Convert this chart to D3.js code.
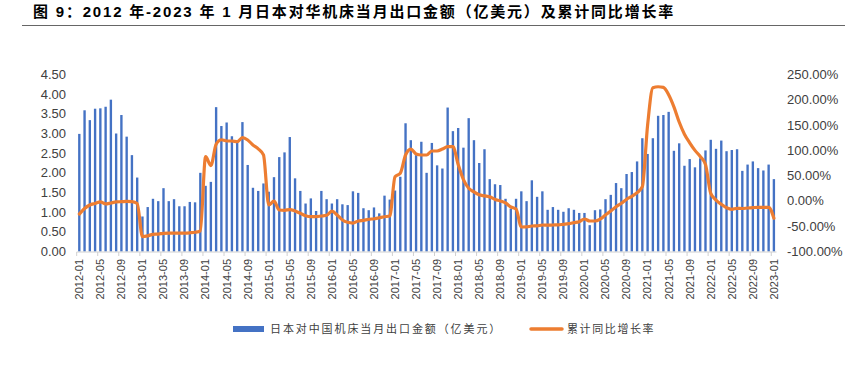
<!DOCTYPE html>
<html>
<head>
<meta charset="utf-8">
<script src="https://cdn.jsdelivr.net/npm/d3@7"></script>
<style>
    body { margin: 0; background: #fff; }
    text { font-family: "Liberation Sans", Arial, "Noto Sans CJK SC", sans-serif; }
</style>
</head>
<body>
<svg width="866" height="370"></svg>
<script>
// months 2012-01 .. 2023-01
const months = [];
for (let y = 2012; y <= 2023; y++) {
    for (let m = 1; m <= 12; m++) {
        if (y === 2023 && m > 1) break;
        months.push(y + "-" + String(m).padStart(2, "0"));
    }
}

// 日本对中国机床当月出口金额（亿美元）
const exportValues = [
    2.99, 3.59, 3.34, 3.63, 3.64, 3.68, 3.86, 3.00, 3.47, 2.92, 2.45, 1.88,   // 2012
    0.89, 1.13, 1.34, 1.28, 1.61, 1.28, 1.33, 1.15, 1.15, 1.26, 1.25, 2.00,   // 2013
    1.67, 1.77, 3.67, 3.19, 3.28, 2.93, 2.82, 3.29, 2.20, 1.62, 1.54, 1.73,   // 2014
    1.52, 1.89, 2.40, 2.52, 2.91, 1.86, 1.54, 1.22, 1.35, 1.03, 1.54, 1.33,   // 2015
    1.22, 1.33, 1.20, 1.18, 1.53, 1.49, 1.10, 1.05, 1.12, 0.97, 1.42, 1.32,   // 2016
    1.55, 1.90, 3.26, 2.83, 2.45, 2.79, 2.00, 2.76, 2.19, 2.11, 3.66, 3.06,   // 2017
    3.14, 2.64, 3.39, 2.83, 2.25, 2.60, 1.84, 1.71, 1.69, 1.34, 1.09, 1.34,   // 2018
    1.53, 1.28, 1.81, 1.39, 1.53, 1.06, 1.13, 1.06, 1.01, 1.10, 1.06, 0.98,   // 2019
    0.98, 0.67, 1.05, 1.07, 1.33, 1.44, 1.74, 1.61, 1.97, 2.02, 2.29, 2.88,   // 2020
    2.48, 2.88, 3.45, 3.47, 3.55, 2.56, 2.75, 2.18, 2.35, 2.14, 2.37, 2.57,   // 2021
    2.84, 2.61, 2.82, 2.55, 2.58, 2.60, 2.05, 2.21, 2.29, 2.12, 2.06, 2.21,   // 2022
    1.84                                                                      // 2023
];

// 累计同比增长率 (%)
const growthRate = [
    -26, -15, -8, -5, -2, -6, -4, -2, -1.5, -1, -1.5, -5,
    -70.5, -69, -66, -65.5, -64, -63.5, -63.5, -63.5, -63.5, -63, -62, -59,
    87.5, 70, 112, 121, 118.5, 118.5, 117, 125, 120.5, 110.6, 103, 91,
    -8, -0.5, -18, -18.5, -17, -20, -24.5, -29.3, -31.2, -31.2, -29.8, -28.4,
    -20, -27.8, -37.7, -42.3, -43.7, -39.7, -38.3, -36.3, -35.2, -33.2, -31.2, -29.8,
    47.9, 54.6, 90.8, 102.6, 92.8, 90.8, 90.8, 98.7, 98.7, 102.6, 107.2, 107.2,
    72, 42, 25, 18, 12, 10, 8, 3, 0, -4, -12, -16,
    -51.6, -51.3, -49.6, -49.3, -47.6, -48, -47.6, -47.3, -46.2, -45, -43, -41,
    -35.7, -39.7, -39.7, -35.7, -27.8, -20, -11.4, -4.7, 3.2, 9.1, 16.3, 28.1,
    150, 223.8, 225.8, 224.6, 210, 186, 156, 132, 115, 100, 88, 72,
    15, 1.8, -6.7, -13.4, -16.6, -14.6, -15, -14, -13.4, -12.6, -12.6, -12.6,
    -34.4
];

const leftTicks  = [0, 0.5, 1, 1.5, 2, 2.5, 3, 3.5, 4, 4.5];
const rightTicks = [-100, -50, 0, 50, 100, 150, 200, 250];
const xLabels    = months.filter((d, i) => i % 4 === 0);

const titleText   = "图 9：2012 年-2023 年 1 月日本对华机床当月出口金额（亿美元）及累计同比增长率";
const barLegend   = "日本对中国机床当月出口金额（亿美元）";
const lineLegend  = "累计同比增长率";

const blue   = "#4472C4";
const orange = "#ED7D31";

const svg = d3.select("svg");

const x = d3.scaleBand()
    .domain(months)
    .range([76.7, 776.5])
    .paddingInner(0.55)
    .paddingOuter(0.27);

const yLeft = d3.scaleLinear().domain([0, 4.5]).range([251.5, 74.5]);
const yRight = d3.scaleLinear().domain([-100, 250]).range([251.5, 74.5]);

// title
svg.append("text")
    .attr("x", 33)
    .attr("y", 17)
    .attr("font-size", 15)
    .attr("font-weight", "bold")
    .attr("letter-spacing", 1.8)
    .attr("fill", "#000")
    .text(titleText);

svg.append("line")
    .attr("x1", 22).attr("x2", 845)
    .attr("y1", 25.5).attr("y2", 25.5)
    .attr("stroke", "#666")
    .attr("stroke-width", 1);

// left axis labels
svg.append("g")
    .selectAll("text")
    .data(leftTicks)
    .enter().append("text")
        .attr("x", 66)
        .attr("y", d => yLeft(d))
        .attr("dy", "0.35em")
        .attr("text-anchor", "end")
        .attr("font-size", 13)
        .attr("fill", "#404040")
        .text(d => d.toFixed(2));

// right axis labels
svg.append("g")
    .selectAll("text")
    .data(rightTicks)
    .enter().append("text")
        .attr("x", 787)
        .attr("y", d => yRight(d))
        .attr("dy", "0.35em")
        .attr("text-anchor", "start")
        .attr("font-size", 13)
        .attr("fill", "#404040")
        .text(d => d.toFixed(2) + "%");

// bars
svg.append("g")
    .selectAll("rect")
    .data(exportValues)
    .enter().append("rect")
        .attr("x", (d, i) => x(months[i]))
        .attr("y", d => yLeft(d))
        .attr("width", x.bandwidth())
        .attr("height", d => yLeft(0) - yLeft(d))
        .attr("fill", blue);

// x axis line + ticks
const bottom = svg.append("g");
bottom.append("line")
    .attr("x1", 76.7).attr("x2", 776.5)
    .attr("y1", 252).attr("y2", 252)
    .attr("stroke", "#d0d0d0");

bottom.selectAll("line.tick")
    .data(xLabels)
    .enter().append("line")
        .attr("class", "tick")
        .attr("x1", d => x(d) - x.step() * x.paddingInner() / 2)
        .attr("x2", d => x(d) - x.step() * x.paddingInner() / 2)
        .attr("y1", 252).attr("y2", 256)
        .attr("stroke", "#d0d0d0");

bottom.selectAll("text")
    .data(xLabels)
    .enter().append("text")
        .attr("transform", d => "translate(" + (x(d) + x.bandwidth() / 2) + ",259) rotate(-90)")
        .attr("dy", "0.35em")
        .attr("text-anchor", "end")
        .attr("font-size", 11)
        .attr("fill", "#404040")
        .text(d => d);

// growth line
const line = d3.line()
    .x((d, i) => x(months[i]) + x.bandwidth() / 2)
    .y(d => yRight(d))
    .curve(d3.curveMonotoneX);

svg.append("path")
    .datum(growthRate)
    .attr("d", line)
    .attr("fill", "none")
    .attr("stroke", orange)
    .attr("stroke-width", 3.2)
    .attr("stroke-linejoin", "round")
    .attr("stroke-linecap", "round");

// legend
const legend = svg.append("g");
legend.append("rect")
    .attr("x", 233).attr("y", 326)
    .attr("width", 31).attr("height", 6)
    .attr("fill", blue);
legend.append("text")
    .attr("x", 270).attr("y", 333)
    .attr("font-size", 11)
    .attr("letter-spacing", 1.9)
    .attr("fill", "#404040")
    .text(barLegend);
legend.append("line")
    .attr("x1", 531).attr("x2", 562)
    .attr("y1", 329).attr("y2", 329)
    .attr("stroke", orange)
    .attr("stroke-width", 3.5)
    .attr("stroke-linecap", "round");
legend.append("text")
    .attr("x", 567).attr("y", 333)
    .attr("font-size", 11)
    .attr("letter-spacing", 1.6)
    .attr("fill", "#404040")
    .text(lineLegend);
</script>
</body>
</html>
